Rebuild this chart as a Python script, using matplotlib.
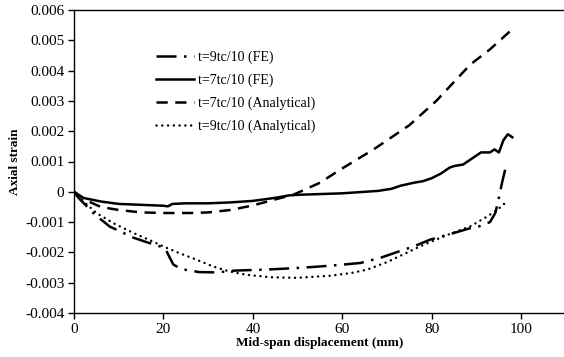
import matplotlib
matplotlib.use("Agg")
import matplotlib.pyplot as plt

plt.rcParams['font.family'] = ['Liberation Serif', 'DejaVu Serif']

# t=9tc/10 (FE)
fe9_x = [0, 1, 3, 5, 6.6, 8, 10.3, 13, 16, 19.2, 20.5, 21.5, 22.2, 24, 26, 28, 32, 36, 42.4, 48, 53.5, 58, 64, 68.5, 72, 76, 79.6, 84, 88.6, 90.4, 93, 94.2, 94.9, 95.7, 96.4, 97, 97.5]
fe9_y = [0, -0.0002, -0.0005, -0.0008, -0.00098, -0.00115, -0.0013, -0.0015, -0.00165, -0.0018, -0.0019, -0.0022, -0.0024, -0.00255, -0.0026, -0.00265, -0.00266, -0.0026, -0.00257, -0.00253, -0.00248, -0.00243, -0.00235, -0.00218, -0.002, -0.0018, -0.00158, -0.0014, -0.0012, -0.00115, -0.001, -0.0007, -0.00026, 0.0003, 0.00073, 0.0007, 0.00063]

# t=7tc/10 (FE)
fe7_x = [0, 2, 6, 10, 15, 20, 21, 22, 25, 30, 35, 40, 45, 48, 50, 60, 68, 71, 73, 76, 78, 80, 82, 84, 85, 87, 88, 89, 90, 91, 93, 94, 95, 96, 97, 98]
fe7_y = [0, -0.0002, -0.00032, -0.0004, -0.00043, -0.00046, -0.00048, -0.0004, -0.00038, -0.00038, -0.00035, -0.0003, -0.0002, -0.00012, -0.0001, -0.00005, 0.00003, 0.0001, 0.0002, 0.0003, 0.00035, 0.00045, 0.0006, 0.0008, 0.00085, 0.0009, 0.001, 0.0011, 0.0012, 0.0013, 0.0013, 0.0014, 0.0013, 0.0017, 0.0019, 0.0018]

# t=7tc/10 (Analytical)
an7_x = [0, 3, 6, 10, 15, 20, 26, 30, 35, 40, 45, 49, 55, 59.5, 67, 75, 81, 88.6, 93, 97.5]
an7_y = [0, -0.0003, -0.0005, -0.0006, -0.00068, -0.0007, -0.0007, -0.00068, -0.0006, -0.00045, -0.00025, -0.0001, 0.0003, 0.00073, 0.0014, 0.0022, 0.003, 0.0042, 0.0047, 0.0053]

# t=9tc/10 (Analytical)
an9_x = [0, 2, 5, 9, 13.3, 17, 20.7, 24, 27.4, 31, 34.5, 38.6, 44, 49.8, 57.3, 62, 65.5, 70, 77.4, 83, 88.6, 92, 94.6, 96.8]
an9_y = [0, -0.0003, -0.0007, -0.00105, -0.00136, -0.0016, -0.00185, -0.00205, -0.00224, -0.00246, -0.00262, -0.00274, -0.00282, -0.00284, -0.00277, -0.00268, -0.00257, -0.00232, -0.0018, -0.00145, -0.00114, -0.00085, -0.0006, -0.00032]

x_ticks = [0, 20, 40, 60, 80, 100]
y_ticks = [-0.004, -0.003, -0.002, -0.001, 0, 0.001, 0.002, 0.003, 0.004, 0.005, 0.006]
y_ticklabels = ['-0.004', '-0.003', '-0.002', '-0.001', '0', '0.001', '0.002', '0.003', '0.004', '0.005', '0.006']

fig = plt.figure(figsize=(5.64, 3.57), dpi=100)
ax = fig.add_axes([74/564, 1 - 313/357, (566 - 74)/564, (313 - 10)/357])

lw = 1.8
ax.plot(fe9_x, fe9_y, color='black', lw=lw, dashes=(8, 3, 1, 3), label='t=9tc/10 (FE)')
ax.plot(fe7_x, fe7_y, color='black', lw=lw, linestyle='-', label='t=7tc/10 (FE)')
ax.plot(an7_x, an7_y, color='black', lw=lw, dashes=(4.5, 3), label='t=7tc/10 (Analytical)')
ax.plot(an9_x, an9_y, color='black', lw=lw, dashes=(0.01, 2.3), dash_capstyle='round', label='t=9tc/10 (Analytical)')

ax.set_xlim(0, 110)
ax.set_ylim(-0.004, 0.006)
ax.set_xticks(x_ticks)
ax.set_yticks(y_ticks)
ax.set_yticklabels(y_ticklabels)
ax.tick_params(direction='out', length=4, width=1, labelsize=11, pad=3)
for s in ax.spines.values():
    s.set_linewidth(1)
ax.spines['right'].set_visible(False)

ax.set_xlabel('Mid-span displacement (mm)', fontweight='bold', fontsize=9.5, labelpad=1)
ax.set_ylabel('Axial strain', fontweight='bold', fontsize=9.5, labelpad=3)

leg = ax.legend(loc='upper left', bbox_to_anchor=(0.141, 0.907), frameon=False, fontsize=10,
                handlelength=2.75, handletextpad=0.3, labelspacing=0.68)

fig.savefig('out.png', dpi=100)
